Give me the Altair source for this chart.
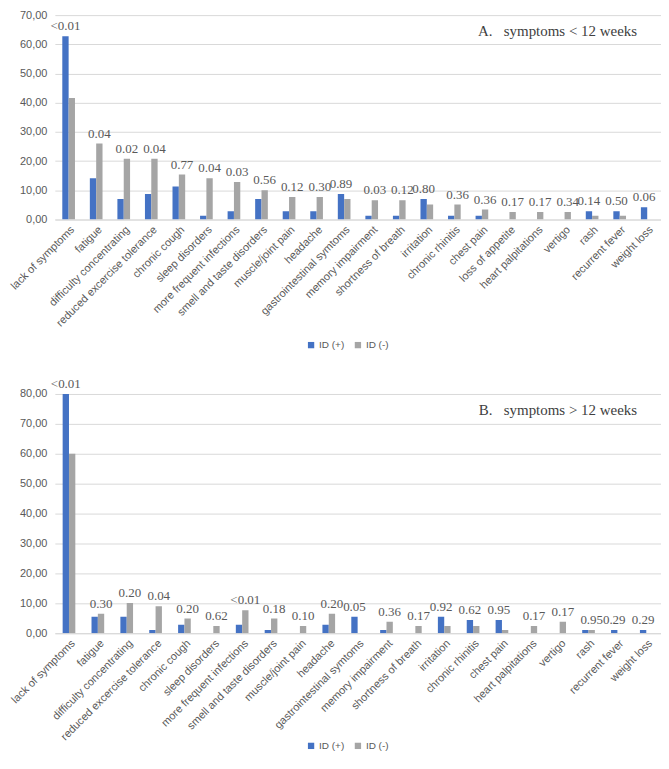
import altair as alt
import pandas as pd

series = ["ID (+)", "ID (-)"]
colors = ["#4472C4", "#A5A5A5"]

cats_a = ["lack of symptoms", "fatigue", "difficulty concentrating", "reduced excercise tolerance",
          "chronic cough", "sleep disorders", "more frequent infections", "smell and taste disorders",
          "muscle/joint pain", "headache", "gastrointestinal symtoms", "memory impairment",
          "shortness of breath", "irritation", "chronic rhinitis", "chest pain", "loss of appetite",
          "heart palpitations", "vertigo", "rash", "recurrent fever", "weight loss"]
pos_a = [62.8, 14.1, 7.0, 8.7, 11.3, 1.3, 2.8, 7.0, 2.8, 2.8, 8.7, 1.3, 1.3, 7.0, 1.3, 1.3, 0, 0, 0, 2.8, 2.8, 4.2]
neg_a = [41.6, 26.0, 20.8, 20.8, 15.4, 14.1, 12.8, 10.0, 7.7, 7.7, 7.0, 6.6, 6.6, 5.1, 5.1, 3.4, 2.6, 2.6, 2.6, 1.3, 1.3, 0]
p_a = ["<0.01", "0.04", "0.02", "0.04", "0.77", "0.04", "0.03", "0.56", "0.12", "0.30", "0.89",
       "0.03", "0.12", "0.80", "0.36", "0.36", "0.17", "0.17", "0.34", "0.14", "0.50", "0.06"]

cats_b = ["lack of symptoms", "fatigue", "difficulty concentrating", "reduced excercise tolerance",
          "chronic cough", "sleep disorders", "more frequent infections", "smell and taste disorders",
          "muscle/joint pain", "headache", "gastrointestinal symtoms", "memory impairment",
          "shortness of breath", "irritation", "chronic rhinitis", "chest pain",
          "heart palpitations", "vertigo", "rash", "recurrent fever", "weight loss"]
pos_b = [80.0, 5.5, 5.5, 1.1, 2.8, 0, 2.8, 1.1, 0, 2.8, 5.5, 1.1, 0, 5.5, 4.4, 4.4, 0, 0, 1.1, 1.1, 1.1]
neg_b = [60.0, 6.5, 10.1, 9.0, 4.9, 2.4, 7.7, 4.9, 2.4, 6.5, 0, 3.8, 2.4, 2.4, 2.4, 1.1, 2.4, 3.8, 1.1, 0, 0]
p_b = ["<0.01", "0.30", "0.20", "0.04", "0.20", "0.62", "<0.01", "0.18", "0.10", "0.20", "0.05",
       "0.36", "0.17", "0.92", "0.62", "0.95", "0.17", "0.17", "0.95", "0.29", "0.29"]

title_a = "A.\u00a0\u00a0\u00a0symptoms < 12 weeks"
title_b = "B.\u00a0\u00a0\u00a0symptoms > 12 weeks"

W = 608
SANS = "Liberation Sans"
SERIF = "Liberation Serif"
GREY_TXT = "#595959"


def panel(cats, pos, neg, pvals, ymax, title, height, legend_x, legend_y):
    rows = []
    for c, a, b in zip(cats, pos, neg):
        rows.append({"cat": c, "series": series[0], "value": a})
        rows.append({"cat": c, "series": series[1], "value": b})
    df = pd.DataFrame(rows)
    lab = pd.DataFrame({
        "cat": cats,
        "p": pvals,
        "value": [max(a, b) for a, b in zip(pos, neg)],
        "series": [series[0] if a > b else series[1] for a, b in zip(pos, neg)],
    })
    ticks = list(range(0, ymax + 1, 10))

    x_axis = alt.Axis(title=None, labelAngle=-45, labelFont=SANS, labelFontSize=11,
                      labelColor=GREY_TXT, ticks=False, domainColor="#d9d9d9",
                      labelPadding=4, grid=False, labelOverlap=False)
    y_axis = alt.Axis(title=None, values=ticks, tickCount=len(ticks),
                      labelExpr="replace(format(datum.value, '.2f'), '.', ',')",
                      labelFont=SANS, labelFontSize=11, labelColor=GREY_TXT,
                      grid=True, gridColor="#d9d9d9", domain=False, ticks=False,
                      labelPadding=8, labelOverlap=False, labelBound=False)
    x_scale = alt.Scale(paddingInner=0.54, paddingOuter=0.27)
    y_scale = alt.Scale(domain=[0, ymax], nice=False, zero=True)
    xo = alt.XOffset("series:N", sort=series, scale=alt.Scale(domain=series, paddingInner=0))

    bars = alt.Chart(df).mark_bar(clip=True).encode(
        x=alt.X("cat:N", sort=cats, scale=x_scale, axis=x_axis),
        xOffset=xo,
        y=alt.Y("value:Q", scale=y_scale, axis=y_axis),
        color=alt.Color("series:N", sort=series,
                        scale=alt.Scale(domain=series, range=colors),
                        legend=alt.Legend(title=None, orient="none", legendX=legend_x,
                                          legendY=legend_y, direction="horizontal",
                                          symbolType="square", symbolSize=40,
                                          symbolStrokeWidth=0, labelFont=SANS,
                                          labelFontSize=10, labelColor=GREY_TXT,
                                          columnPadding=8, labelOffset=3)),
    )

    labels = alt.Chart(lab).mark_text(font=SERIF, fontSize=13, color=GREY_TXT,
                                      baseline="middle", dy=-10).encode(
        x=alt.X("cat:N", sort=cats, scale=x_scale, axis=x_axis),
        xOffset=xo,
        y=alt.Y("value:Q", scale=y_scale, axis=y_axis),
        text="p:N",
    )

    ttl = alt.Chart(pd.DataFrame({"t": [title]})).mark_text(
        font=SERIF, fontSize=15, color="#404040", align="right", baseline="middle"
    ).encode(text="t:N", x=alt.value(W - 24), y=alt.value(16))

    return alt.layer(bars, labels, ttl).properties(width=W, height=height)


top = panel(cats_a, pos_a, neg_a, p_a, 70, title_a, 205, 252, 326)
bottom = panel(cats_b, pos_b, neg_b, p_b, 80, title_b, 240, 252, 348)

chart = alt.vconcat(top, bottom, spacing=175, bounds="flush").resolve_scale(
    color="independent"
).properties(padding=0).configure_view(stroke=None)

chart.save("out.html", embed_options={"renderer": "svg", "actions": False})
